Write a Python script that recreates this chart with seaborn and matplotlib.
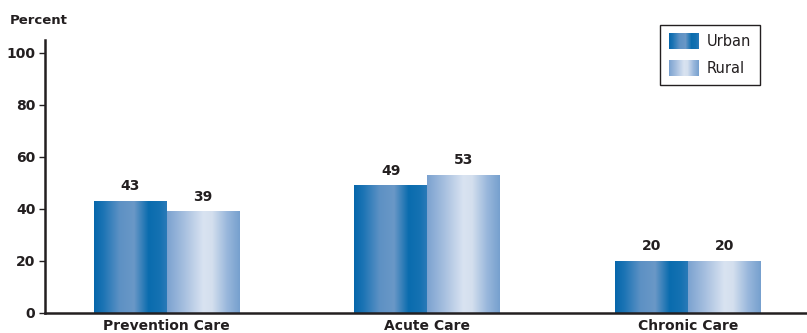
import numpy as np
import pandas as pd
import seaborn as sns
import matplotlib.pyplot as plt
from matplotlib.colors import LinearSegmentedColormap
from matplotlib.patches import Rectangle
from matplotlib.image import BboxImage
from matplotlib.transforms import Bbox, TransformedBbox

# dados
categorias = ['Prevention Care', 'Acute Care', 'Chronic Care']
urban = [43, 49, 20]
rural = [39, 53, 20]
grupos = ['Urban', 'Rural']
yticks = [0, 20, 40, 60, 80, 100]

df = pd.DataFrame({
    'care': categorias * 2,
    'group': ['Urban'] * 3 + ['Rural'] * 3,
    'pct': urban + rural,
})

# gradientes horizontais das barras
cmap_urban = LinearSegmentedColormap.from_list('urban', [
    (0.0, '#0767ab'), (0.12, '#1a73b4'), (0.35, '#5d91c4'), (0.55, '#6a98c7'),
    (0.75, '#0a6cae'), (0.9, '#1471b2'), (1.0, '#2a7ab8')])
cmap_rural = LinearSegmentedColormap.from_list('rural', [
    (0.0, '#7ba2d0'), (0.25, '#a9c1e0'), (0.5, '#d9e3f1'), (0.62, '#d4dfee'),
    (0.82, '#9ab8dc'), (1.0, '#76a0ce')])
cmaps = [cmap_urban, cmap_rural]
grad = np.linspace(0, 1, 256)[np.newaxis, :]

txt = '#231f20'
plt.rcParams['font.family'] = ['DejaVu Sans']

fig = plt.figure(figsize=(8.07, 3.33), dpi=100)
ax = fig.add_axes([45 / 807, 20 / 333, 1 - 45 / 807, 273 / 333])

sns.barplot(data=df, x='care', y='pct', hue='group', order=categorias,
            hue_order=grupos, width=0.56, legend=False, ax=ax,
            err_kws={'linewidth': 0})

for cont, cmap in zip(ax.containers, cmaps):
    for bar in cont:
        x0, y0 = bar.get_x(), bar.get_y()
        w, h = bar.get_width(), bar.get_height()
        bar.set_facecolor('none')
        bar.set_edgecolor('none')
        ax.imshow(grad, cmap=cmap, extent=(x0, x0 + w, y0, y0 + h),
                  aspect='auto', interpolation='bilinear', zorder=2)
        ax.text(x0 + w / 2, h + 3, f'{h:.0f}', ha='center', va='bottom',
                fontsize=10, fontweight='bold', color=txt, zorder=3)

ax.set_xlim(-0.467, 2.456)
ax.set_ylim(0, 105)
ax.set_yticks(yticks)
ax.set_xlabel('')
ax.set_ylabel('')
for s in ['top', 'right']:
    ax.spines[s].set_visible(False)
ax.spines['left'].set_linewidth(1.8)
ax.spines['bottom'].set_linewidth(1.8)
ax.spines['left'].set_color(txt)
ax.spines['bottom'].set_color(txt)
ax.tick_params(axis='y', length=4, width=1, color=txt, labelsize=10,
               labelcolor=txt, pad=3)
ax.tick_params(axis='x', length=0, labelsize=10, labelcolor=txt, pad=4)
for lb in ax.get_yticklabels() + ax.get_xticklabels():
    lb.set_fontweight('bold')

fig.text(10 / 807, 1 - 20 / 333, 'Percent', fontsize=9.5, fontweight='bold',
         color=txt, va='center', ha='left')

handles = [Rectangle((0, 0), 1, 1, facecolor='none', edgecolor='none') for _ in grupos]
leg = ax.legend(handles, grupos, loc='upper right',
                bbox_to_anchor=(760 / 807, 1 - 25 / 333),
                bbox_transform=fig.transFigure, borderaxespad=0,
                fontsize=10.5, handlelength=2.05, handleheight=1.25,
                labelspacing=0.75, handletextpad=0.55, borderpad=0.6,
                fancybox=False, shadow=False, framealpha=1)
leg.get_frame().set_edgecolor(txt)
leg.get_frame().set_linewidth(1)
for t in leg.get_texts():
    t.set_color(txt)

# gradientes na legenda
fig.canvas.draw()
renderer = fig.canvas.get_renderer()
for hnd, cmap in zip(leg.legend_handles, cmaps):
    bb = hnd.get_window_extent(renderer)
    pts = fig.transFigure.inverted().transform(bb.get_points())
    im = BboxImage(TransformedBbox(Bbox(pts), fig.transFigure), cmap=cmap,
                   interpolation='bilinear')
    im.set_data(grad)
    im.set_zorder(10)
    fig.add_artist(im)

plt.savefig('out.png', dpi=100)
plt.close()
